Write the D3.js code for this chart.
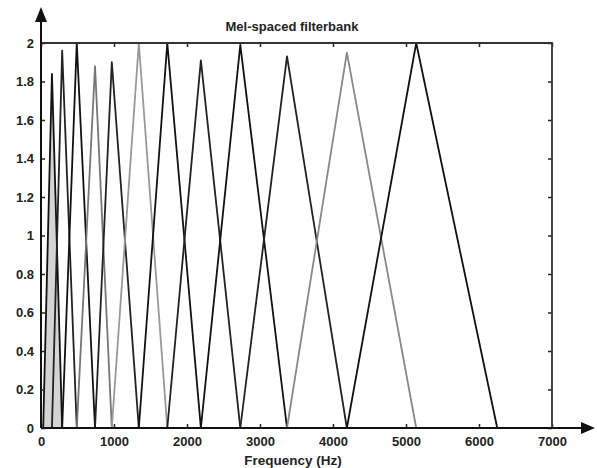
<!DOCTYPE html>
<html>
<head>
<meta charset="utf-8">
<script src="https://cdn.jsdelivr.net/npm/d3@7"></script>
<style>
  html, body { margin: 0; padding: 0; background: #fff; }
  svg text { font-family: "Liberation Sans", Arial, sans-serif; font-weight: bold; fill: #222; }
</style>
</head>
<body>
<div id="chart"></div>
<script>
// filter edges (Hz): filter i rises from edges[i], peaks at edges[i+1], falls to edges[i+2]
const edges = [30, 150, 290, 490, 740, 970, 1340, 1730, 2190, 2730, 3370, 4190, 5140, 6250];
// peak heights of the 12 filters
const peaks = [1.84, 1.96, 2.0, 1.88, 1.9, 2.0, 2.0, 1.91, 1.99, 1.93, 1.95, 2.0];
// line tone of each filter (scan gives some lighter)
const tones = ["#111", "#222", "#111", "#777", "#222", "#999", "#111", "#222", "#111", "#222", "#888", "#111"];

const xTicks = [0, 1000, 2000, 3000, 4000, 5000, 6000, 7000];
const yTicks = [0, 0.2, 0.4, 0.6, 0.8, 1, 1.2, 1.4, 1.6, 1.8, 2];

const W = 597, H = 468;
const mLeft = 41, mRight = 552, mTop = 43, mBottom = 428;

const svg = d3.select("#chart").append("svg")
    .attr("width", W)
    .attr("height", H);

const x = d3.scaleLinear().domain([0, 7000]).range([mLeft, mRight]);
const y = d3.scaleLinear().domain([0, 2]).range([mBottom, mTop]);

//triangles
const filters = peaks.map((p, i) => [
    { f: edges[i], v: 0 },
    { f: edges[i + 1], v: p },
    { f: edges[i + 2], v: 0 }
]);

const line = d3.line()
    .x(d => x(d.f))
    .y(d => y(d.v));

//gray smudge under the lowest filter
svg.append("path")
    .datum(filters[0])
    .attr("fill", "#d4d4d4")
    .attr("stroke", "none")
    .attr("d", line);

svg.append("g")
    .selectAll("path")
    .data(filters)
    .join("path")
    .attr("fill", "none")
    .attr("stroke", (d, i) => tones[i])
    .attr("stroke-width", 1.8)
    .attr("stroke-linejoin", "round")
    .attr("d", line);

//axes with inward ticks
const bottomAxis = svg.append("g")
    .attr("transform", `translate(0,${mBottom})`)
    .call(d3.axisBottom(x).tickValues(xTicks).tickSize(-4).tickPadding(9).tickFormat(d3.format("d")));
const leftAxis = svg.append("g")
    .attr("transform", `translate(${mLeft},0)`)
    .call(d3.axisLeft(y).tickValues(yTicks).tickSize(-4).tickPadding(7).tickFormat(d => d3.format("~g")(d)));
const topAxis = svg.append("g")
    .attr("transform", `translate(0,${mTop})`)
    .call(d3.axisTop(x).tickValues(xTicks).tickSize(-4).tickFormat(""));
const rightAxis = svg.append("g")
    .attr("transform", `translate(${mRight},0)`)
    .call(d3.axisRight(y).tickValues(yTicks).tickSize(-4).tickFormat(""));

[bottomAxis, leftAxis, topAxis, rightAxis].forEach(a => {
    a.select(".domain").remove();
    a.selectAll(".tick line").attr("stroke", "#222").attr("stroke-width", 1.5);
});
bottomAxis.selectAll("text").attr("font-size", 13);
leftAxis.selectAll("text").attr("font-size", 13);

//frame
svg.append("path")
    .attr("fill", "none")
    .attr("stroke", "#333")
    .attr("stroke-width", 1.8)
    .attr("d", `M${mLeft},${mTop}H${mRight}V${mBottom}`);

//main axes with arrows
svg.append("line")
    .attr("x1", mLeft).attr("y1", mBottom)
    .attr("x2", mLeft).attr("y2", 18)
    .attr("stroke", "#111").attr("stroke-width", 2);
svg.append("line")
    .attr("x1", mLeft).attr("y1", mBottom)
    .attr("x2", 584).attr("y2", mBottom)
    .attr("stroke", "#111").attr("stroke-width", 2);
svg.append("path")
    .attr("fill", "#111")
    .attr("d", `M${mLeft},7L${mLeft - 6},22L${mLeft + 6},22Z`);
svg.append("path")
    .attr("fill", "#111")
    .attr("d", `M595,${mBottom}L581,${mBottom - 6}L581,${mBottom + 6}Z`);

//texts
svg.append("text")
    .attr("x", 292)
    .attr("y", 31)
    .attr("text-anchor", "middle")
    .attr("font-size", 13)
    .text("Mel-spaced filterbank");

svg.append("text")
    .attr("x", 293)
    .attr("y", 465)
    .attr("text-anchor", "middle")
    .attr("font-size", 13.5)
    .text("Frequency (Hz)");
</script>
</body>
</html>
